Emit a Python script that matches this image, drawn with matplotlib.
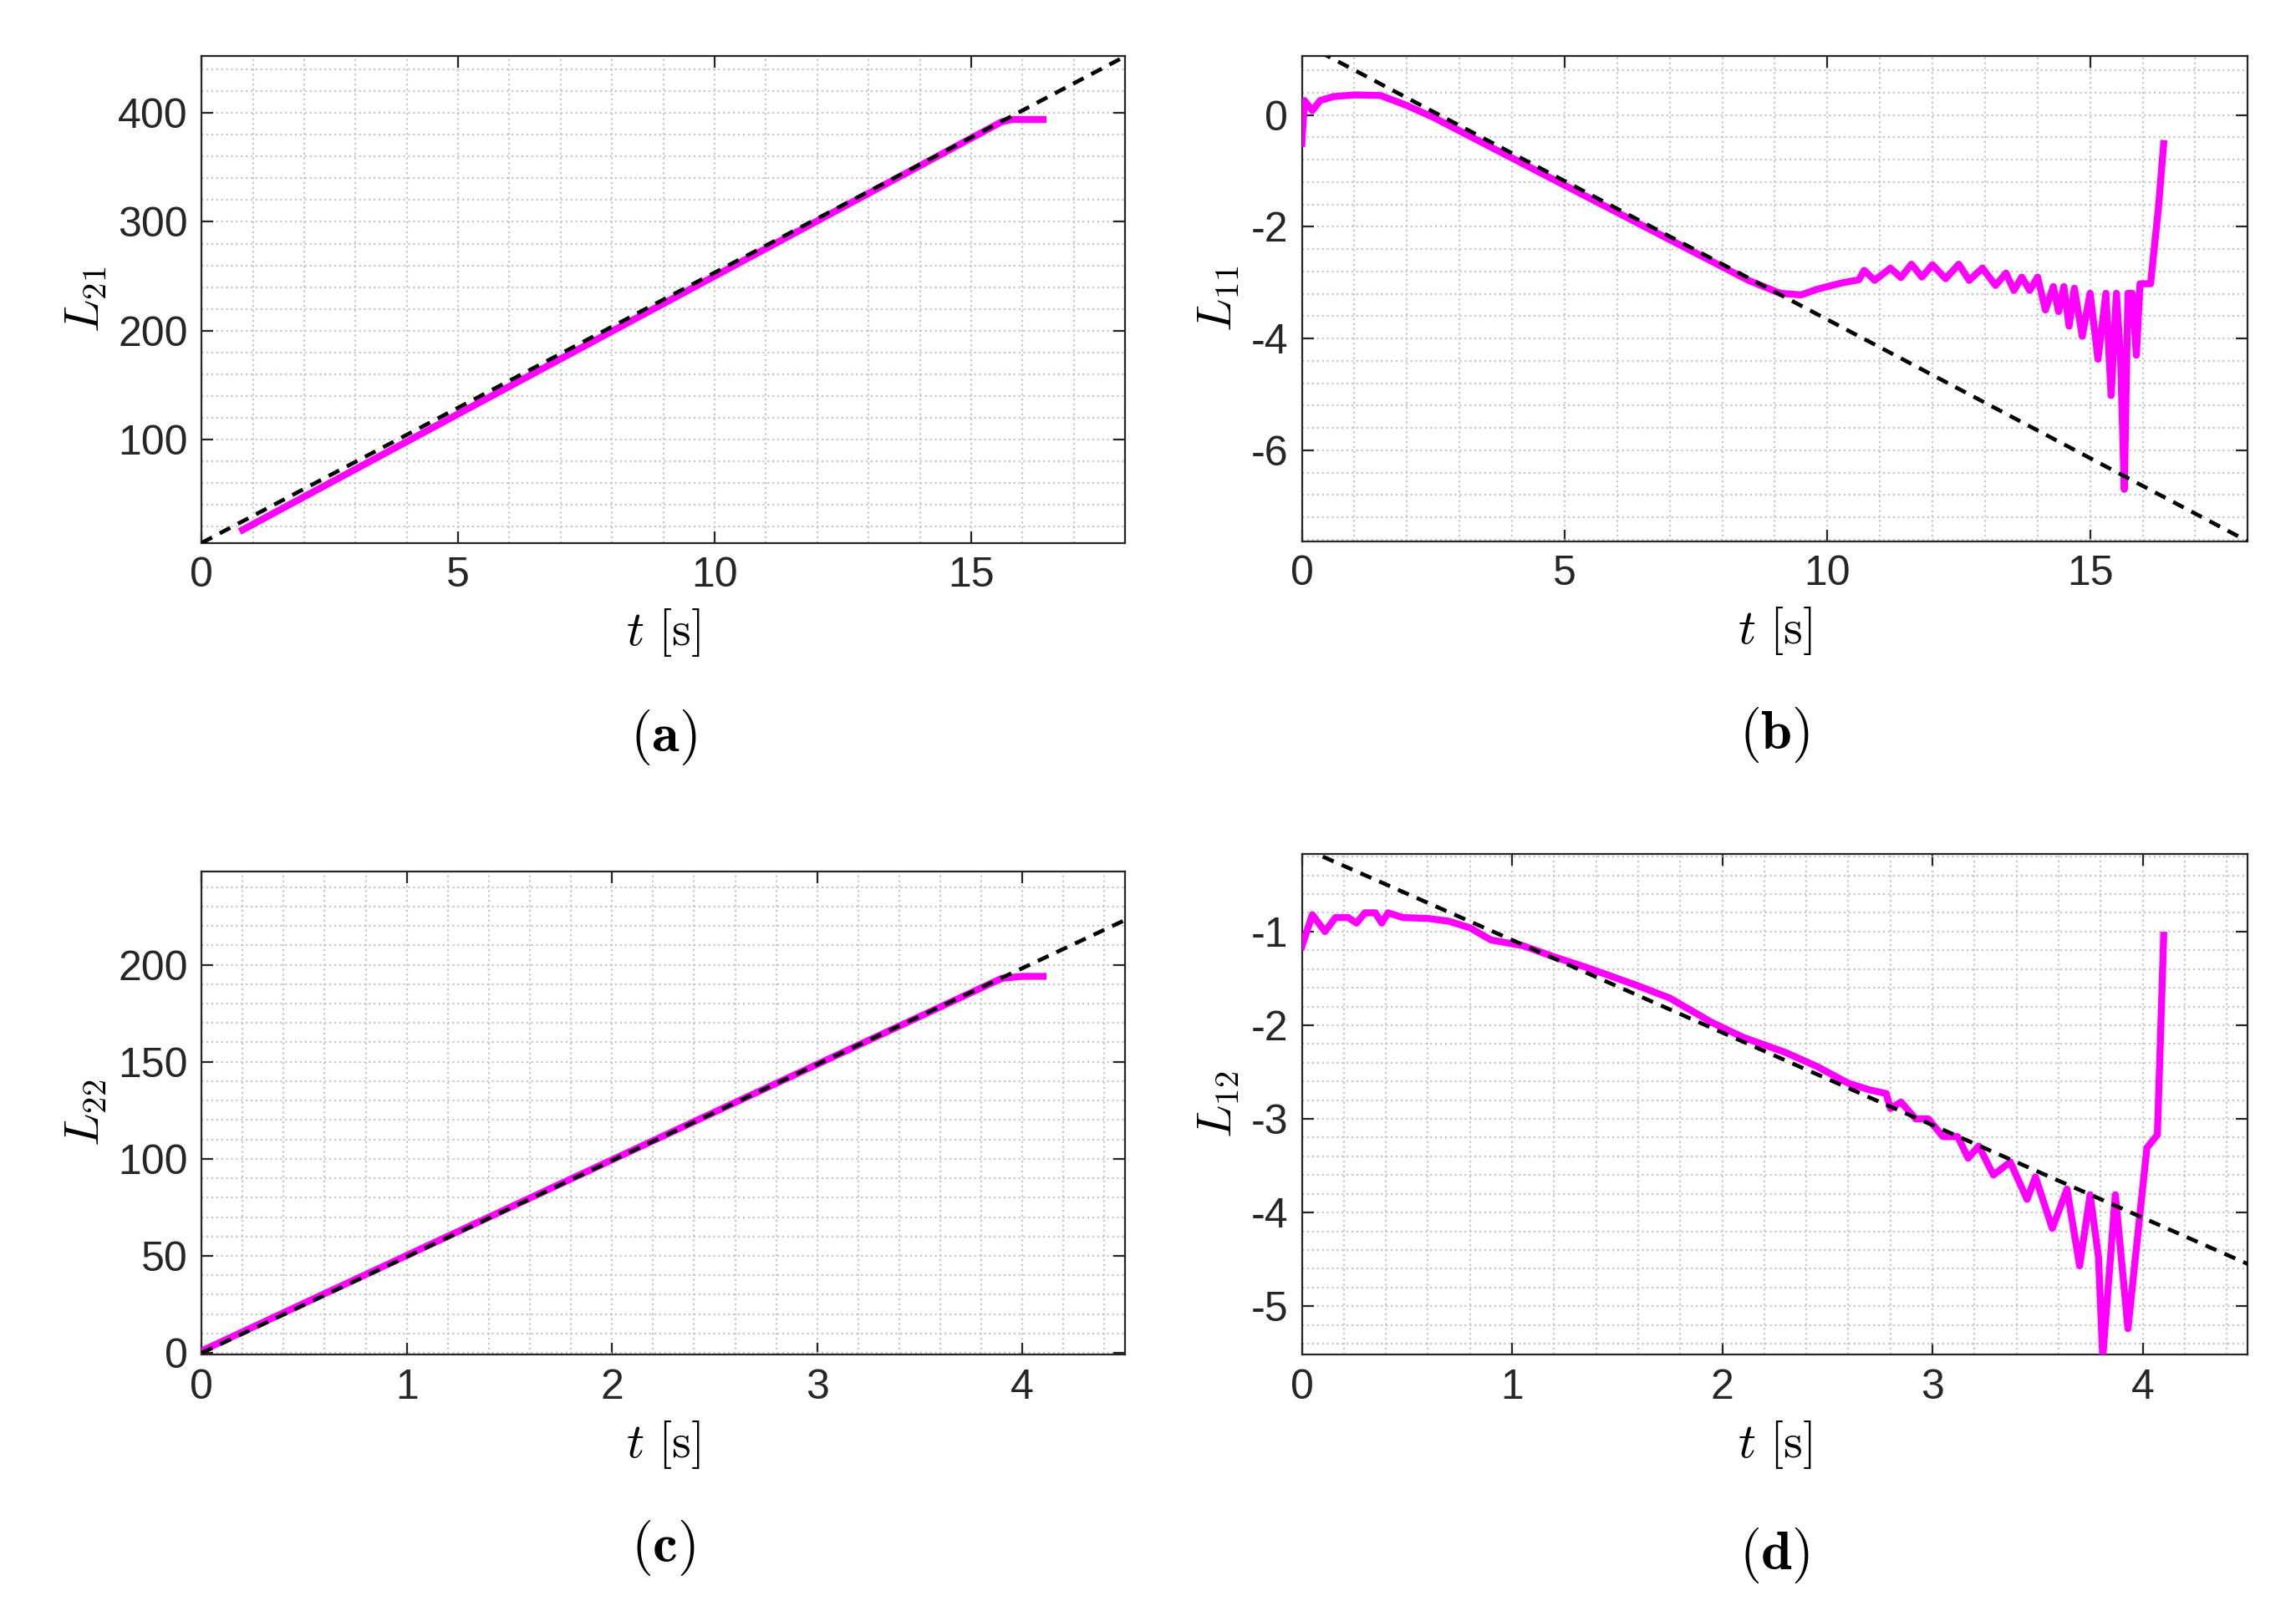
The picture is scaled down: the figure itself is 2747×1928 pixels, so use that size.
import numpy as np
import matplotlib
matplotlib.use("Agg")
import matplotlib.pyplot as plt
from matplotlib.ticker import AutoMinorLocator

plt.rcParams["font.family"] = ["Liberation Sans", "DejaVu Sans"]
plt.rcParams["mathtext.fontset"] = "cm"
plt.rcParams["axes.unicode_minus"] = False

MAGENTA = "#ff00ff"

# (a) L21
a_t = [0.8, 15.6, 15.8, 16.4]
a_L = [17, 392, 394, 394]
a_fit_t = [0, 18]
a_fit_L = [5, 452]

# (b) L11
b_t = [0.0, 0.05, 0.2, 0.35, 0.6, 1.0, 1.5, 2.0, 2.5, 8.5, 9.1, 9.5, 9.8, 10.0, 10.3, 10.6,
       10.7, 10.9, 11.2, 11.4, 11.6, 11.8, 12.0, 12.25, 12.5, 12.7, 12.95, 13.2, 13.4, 13.55,
       13.7, 13.85, 14.0, 14.15, 14.3, 14.4, 14.5, 14.6, 14.7, 14.85, 15.0, 15.15, 15.3, 15.4,
       15.5, 15.58, 15.65, 15.72, 15.8, 15.88, 15.95, 16.15, 16.3, 16.4]
b_L = [-0.51, 0.26, 0.08, 0.26, 0.33, 0.36, 0.35, 0.17, -0.04, -2.96, -3.19, -3.22, -3.12, -3.07, -3.0, -2.95,
       -2.78, -2.96, -2.74, -2.91, -2.67, -2.90, -2.68, -2.93, -2.67, -2.96, -2.74, -3.05, -2.83, -3.14,
       -2.90, -3.14, -2.90, -3.49, -3.07, -3.52, -3.07, -3.78, -3.10, -3.96, -3.19, -4.37, -3.19, -5.02,
       -3.19, -4.37, -6.70, -3.19, -3.19, -4.3, -3.02, -3.02, -1.66, -0.51]
b_fit_t = [0, 18]
b_fit_L = [1.3, -7.63]

# (c) L22
c_t = [0.0, 3.9, 4.0, 4.1]
c_L = [1, 193, 194, 194]
c_fit_t = [0, 4.5]
c_fit_L = [0, 223]

# (d) L12
d_t = [0.0, 0.05, 0.11, 0.16, 0.22, 0.26, 0.3, 0.35, 0.38, 0.41, 0.48, 0.6, 0.7, 0.8, 0.9, 1.05,
       1.2, 1.35, 1.45, 1.6, 1.75, 1.95, 2.1, 2.3, 2.45, 2.6, 2.7, 2.78, 2.8, 2.85, 2.92, 2.98,
       3.05, 3.12, 3.17, 3.22, 3.29, 3.37, 3.45, 3.49, 3.57, 3.64, 3.7, 3.75, 3.79, 3.81, 3.87,
       3.93, 4.02, 4.07, 4.1]
d_L = [-1.16, -0.82, -1.0, -0.85, -0.85, -0.91, -0.80, -0.80, -0.91, -0.80, -0.85, -0.86, -0.89, -0.96, -1.09, -1.15,
       -1.27, -1.38, -1.46, -1.58, -1.71, -1.97, -2.13, -2.29, -2.44, -2.62, -2.69, -2.73, -2.89, -2.82, -3.0, -3.0,
       -3.19, -3.19, -3.42, -3.29, -3.60, -3.46, -3.86, -3.62, -4.17, -3.75, -4.57, -3.81, -4.48, -5.55, -3.81,
       -5.24, -3.31, -3.17, -1.04]
d_fit_t = [0.1, 4.5]
d_fit_L = [-0.2, -4.55]

panels = [
    # rect, t, L, fit_t, fit_L, xlim, ylim, xticks, yticks, ylabel, caption
    ([0.0878, 0.663, 0.4022, 0.302], a_t, a_L, a_fit_t, a_fit_L, (0, 18), (5, 452),
     [0, 5, 10, 15], [100, 200, 300, 400], r"$L_{21}$", "a"),
    ([0.567, 0.664, 0.412, 0.301], b_t, b_L, b_fit_t, b_fit_L, (0, 18), (-7.63, 1.05),
     [0, 5, 10, 15], [-6, -4, -2, 0], r"$L_{11}$", "b"),
    ([0.0878, 0.159, 0.4022, 0.300], c_t, c_L, c_fit_t, c_fit_L, (0, 4.5), (-1, 248),
     [0, 1, 2, 3, 4], [0, 50, 100, 150, 200], r"$L_{22}$", "c"),
    ([0.567, 0.159, 0.412, 0.311], d_t, d_L, d_fit_t, d_fit_L, (0, 4.5), (-5.52, -0.17),
     [0, 1, 2, 3, 4], [-5, -4, -3, -2, -1], r"$L_{12}$", "d"),
]

fig = plt.figure(figsize=(13.735, 9.64), dpi=200)
for rect, t, L, ft, fL, xl, yl, xt, yt, ylab, cap in panels:
    ax = fig.add_axes(rect)
    ax.plot(t, L, color=MAGENTA, linewidth=3.0, zorder=3)
    ax.plot(ft, fL, color="black", linestyle=(0, (3, 2.2)), linewidth=1.7, zorder=4)
    ax.set_xlim(*xl)
    ax.set_ylim(*yl)
    ax.set_xticks(xt)
    ax.set_yticks(yt)
    ax.xaxis.set_minor_locator(AutoMinorLocator(5))
    ax.yaxis.set_minor_locator(AutoMinorLocator(5))
    ax.grid(True, which="both", color="#c8c8c8", linestyle=":", linewidth=0.8)
    ax.tick_params(which="both", direction="in", top=True, right=True, labelsize=18, colors="#262626")
    ax.tick_params(which="minor", length=0)
    ax.tick_params(which="major", length=5, pad=6)
    for s in ax.spines.values():
        s.set_color("#262626")
        s.set_linewidth(0.8)
    ax.set_ylabel(ylab, fontsize=21)
    ax.set_xlabel(r"$t\ [\mathrm{s}]$", fontsize=21, labelpad=5)
    ax.text(0.5, -0.40, r"$\mathbf{(%s)}$" % cap, transform=ax.transAxes, ha="center", va="center",
            fontsize=24)

fig.savefig("out.png", dpi=200, facecolor="white")
